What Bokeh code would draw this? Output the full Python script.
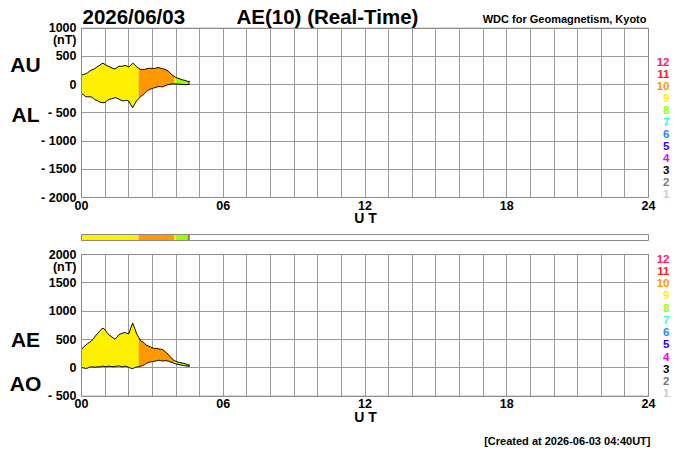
from bokeh.plotting import figure
from bokeh.models import Range1d, FixedTicker, Label, LinearAxis, Grid
from bokeh.embed import file_html
from bokeh.resources import INLINE

# ---------------- data ----------------
minutes = [0, 5, 10, 15, 20, 25, 30, 35, 40, 45, 50, 55, 60, 65, 70, 75, 80, 85, 90, 95,
           100, 105, 110, 115, 120, 125, 130, 135, 140, 145, 150, 155, 160, 165, 170, 175,
           180, 185, 190, 195, 200, 205, 210, 215, 220, 225, 230, 235, 240, 245, 250, 255,
           260, 265, 270, 275]
au = [170, 180, 190, 207, 235, 258, 270, 290, 320, 335, 365, 380, 355, 335, 320, 303, 285, 278,
      300, 327, 325, 328, 342, 330, 310, 345, 380, 355, 315, 290, 270, 270, 270, 280, 287, 290,
      288, 285, 297, 303, 295, 282, 275, 260, 240, 205, 175, 145, 128, 110, 103, 87, 80, 70, 58, 55]
al = [-160, -180, -210, -217, -215, -218, -240, -270, -280, -305, -315, -320, -315, -285, -260,
      -253, -245, -228, -240, -257, -275, -288, -282, -280, -290, -355, -410, -345, -285, -250,
      -210, -190, -160, -120, -97, -80, -68, -55, -47, -33, -35, -42, -25, -10, 0, 5, 15, 15, 12,
      10, 7, 3, 0, 0, 2, 5]
ae = [330, 360, 400, 425, 450, 476, 510, 560, 600, 640, 680, 700, 670, 620, 580, 555, 530, 506,
      540, 585, 600, 615, 625, 610, 600, 700, 790, 700, 600, 540, 480, 460, 430, 400, 385, 370,
      355, 340, 345, 335, 330, 325, 300, 270, 240, 200, 160, 130, 115, 100, 95, 85, 80, 70, 55, 50]
ao = [5, 0, -10, -5, 10, 20, 15, 10, 20, 15, 25, 30, 20, 25, 30, 25, 20, 25, 30, 35, 25, 20, 30,
      25, 10, -5, -15, 5, 15, 20, 30, 40, 55, 80, 95, 105, 110, 115, 125, 135, 130, 120, 125, 125,
      120, 105, 95, 80, 70, 60, 55, 45, 40, 35, 30, 30]

seg_start = [0, 145, 235, 240, 270]
seg_end = [145, 235, 240, 270, 275]
seg_stations = [9, 10, 9, 8, 2]

station_levels = [12, 11, 10, 9, 8, 7, 6, 5, 4, 3, 2, 1]
station_colors = ["#ff1a6e", "#ff2020", "#ff9900", "#fff000", "#99ff00", "#33ffcc",
                  "#1a8cff", "#3300ff", "#ee00ff", "#000000", "#777777", "#cccccc"]
color_of = dict(zip(station_levels, station_colors))

hour_ticks = [0, 360, 720, 1080, 1440]
hour_labels = ["00", "06", "12", "18", "24"]
grid_hours = [h * 60 for h in range(25)]

top_ticks = [-2000, -1500, -1000, -500, 0, 500, 1000]
top_labels = ["- 2000", "- 1500", "- 1000", "- 500", "0", "500", "1000"]
bot_ticks = [-500, 0, 500, 1000, 1500, 2000]
bot_labels = ["- 500", "0", "500", "1000", "1500", "2000"]

# ---------------- geometry (pixels of the 700x450 canvas) ----------------
W, H = 700, 450
FX0, FX1 = 81, 648            # plot boxes, left/right
T_TOP, T_BOT = 27.7, 197.0     # top box  (1000 .. -2000)
B_TOP, B_BOT = 254.0, 395.7    # bottom box (2000 .. -500)
C_TOP, C_BOT = 234.0, 240.0    # station bar

kx = 1440.0 / (FX1 - FX0)
s1 = 3000.0 / (T_BOT - T_TOP)
s2 = 2500.0 / (B_BOT - B_TOP)
s3 = 1.0 / (C_BOT - C_TOP)

FONT = "Liberation Sans"
GRID = "#9a9a9a"
BOX = "#8a8a8a"

p = figure(width=W, height=H, output_backend="svg", toolbar_location=None,
           x_axis_location=None, y_axis_location=None,
           x_range=Range1d(-FX0 * kx, 1440 + (W - FX1) * kx),
           y_range=Range1d(1000 - (H - T_TOP) * s1, 1000 + T_TOP * s1),
           min_border=0, min_border_left=0, min_border_right=0,
           min_border_top=0, min_border_bottom=0)
p.extra_y_ranges = {
    "ae": Range1d(2000 - (H - B_TOP) * s2, 2000 + B_TOP * s2),
    "bar": Range1d(1 - (H - C_TOP) * s3, 1 + C_TOP * s3),
    "px": Range1d(H, 0),
}
p.extra_x_ranges = {"px": Range1d(0, W)}
p.outline_line_color = None
p.grid.visible = False
p.background_fill_color = "white"
p.border_fill_color = "white"


def panel(yname, ymin, ymax, yticks, ylabels):
    g1 = Grid(dimension=0, ticker=FixedTicker(ticks=grid_hours), y_range_name=yname,
              cross_bounds=(ymin, ymax), grid_line_color=GRID, grid_line_width=1)
    g2 = Grid(dimension=1, ticker=FixedTicker(ticks=yticks), y_range_name=yname,
              cross_bounds=(0, 1440), grid_line_color=GRID, grid_line_width=1)
    p.add_layout(g1)
    p.add_layout(g2)
    xa = LinearAxis(ticker=FixedTicker(ticks=hour_ticks), fixed_location=ymin,
                    y_range_name=yname, bounds=(0, 1440))
    xa.major_label_overrides = dict(zip(hour_ticks, hour_labels))
    xa.major_label_standoff = 3
    ya = LinearAxis(ticker=FixedTicker(ticks=yticks), fixed_location=0,
                    y_range_name=yname, bounds=(ymin, ymax))
    ya.major_label_overrides = dict(zip(yticks, ylabels))
    ya.major_label_standoff = 5
    for ax in (xa, ya):
        ax.axis_line_color = None
        ax.major_tick_out = 0
        ax.major_tick_in = 0
        ax.minor_tick_out = 0
        ax.minor_tick_in = 0
        ax.major_label_text_font = FONT
        ax.major_label_text_font_style = "bold"
        ax.major_label_text_font_size = "12.5px"
        ax.major_label_text_color = "black"
    p.add_layout(xa, "below")
    p.add_layout(ya, "left")


def band(yname, lo, hi):
    for s0, s1_, n in zip(seg_start, seg_end, seg_stations):
        idx = [i for i, t in enumerate(minutes) if s0 <= t <= s1_]
        p.varea(x=[minutes[i] for i in idx], y1=[lo[i] for i in idx],
                y2=[hi[i] for i in idx], fill_color=color_of[n], fill_alpha=1.0,
                y_range_name=yname)
    p.line(minutes, hi, line_color="black", line_width=1, y_range_name=yname)
    p.line(minutes, lo, line_color="black", line_width=1, y_range_name=yname)


def box(yname, ymin, ymax):
    p.quad(left=0, right=1440, bottom=ymin, top=ymax, fill_color=None,
           line_color=BOX, line_width=1, y_range_name=yname)


def txt(X, Y, s, size, align="left", color="black"):
    p.add_layout(Label(x=X, y=Y, x_range_name="px", y_range_name="px", text=s,
                       text_font=FONT, text_font_size=size, text_font_style="bold",
                       text_align=align, text_baseline="middle", text_color=color))


# top panel AU / AL
panel("default", -2000, 1000, top_ticks, top_labels)
band("default", al, au)
box("default", -2000, 1000)

# bottom panel AE / AO
panel("ae", -500, 2000, bot_ticks, bot_labels)
band("ae", ao, ae)
box("ae", -500, 2000)

# station bar
p.quad(left=seg_start, right=seg_end, bottom=0, top=1,
       fill_color=[color_of[n] for n in seg_stations], line_color=None, y_range_name="bar")
box("bar", 0, 1)

# texts
txt(82, 15.5, "2026/06/03", "20.5px")
txt(236, 15.5, "AE(10) (Real-Time)", "20.5px")
txt(646, 18, "WDC for Geomagnetism, Kyoto", "11px", align="right")
txt(25, 63.5, "AU", "21px", align="center")
txt(25, 113.5, "AL", "21px", align="center")
txt(25, 338.5, "AE", "21px", align="center")
txt(25, 382.5, "AO", "21px", align="center")
txt(76, 39.5, "(nT)", "12.5px", align="right")
txt(76, 266, "(nT)", "12.5px", align="right")
txt(365, 217, "U T", "14px", align="center")
txt(365, 416, "U T", "14px", align="center")
txt(650, 440, "[Created at 2026-06-03 04:40UT]", "11px", align="right")
for i, (lev, col) in enumerate(zip(station_levels, station_colors)):
    txt(669, 61 + 12.05 * i, str(lev), "11.5px", align="right", color=col)
    txt(669, 258 + 12.27 * i, str(lev), "11.5px", align="right", color=col)

open("out.html", "w").write(file_html(p, INLINE))
